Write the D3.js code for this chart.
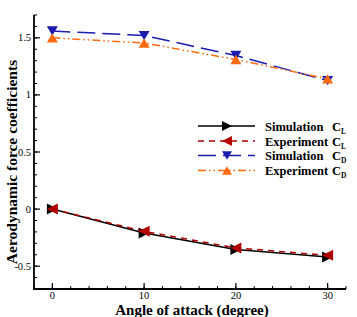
<!DOCTYPE html>
<html><head><meta charset="utf-8">
<script src="https://cdn.jsdelivr.net/npm/d3@7"></script>
<style>body{margin:0;background:#fff}svg{display:block}</style>
</head><body><svg id="c" width="357" height="317"></svg>
<script>
const angles = [0, 10, 20, 30];
const simCL = [0, -0.21, -0.355, -0.42];
const expCL = [0, -0.195, -0.34, -0.405];
const simCD = [1.56, 1.52, 1.345, 1.125];
const expCD = [1.5, 1.455, 1.31, 1.14];
const xTicks = [0, 10, 20, 30];
const yTicks = [-0.5, 0, 0.5, 1, 1.5];
const yTickLabels = ["-0.5", "0", "0.5", "1", "1.5"];

const series = [
  {name: "Simulation", sub: "L", vals: simCL, color: "#000000", dash: null, marker: "right"},
  {name: "Experiment", sub: "L", vals: expCL, color: "#b00000", dash: "6,5", marker: "left"},
  {name: "Simulation", sub: "D", vals: simCD, color: "#1c1cb0", dash: "18,7", marker: "down"},
  {name: "Experiment", sub: "D", vals: expCD, color: "#ff6a10", dash: "8,3,1.5,3,1.5,3", marker: "up"}
];

const FONT = '"Liberation Serif", "Times New Roman", serif';
const svg = d3.select("#c");
const L = 34, R = 346, T = 15, B = 289;
const x = d3.scaleLinear().domain([-2, 32]).range([L, R]);
const y = d3.scaleLinear().domain([-0.7, 1.7]).range([B, T]);

const g = svg.append("g");
const xMinor = d3.range(-2, 32.01, 2);
const yMinor = d3.range(-0.7, 1.701, 0.1);
g.selectAll(".xm").data(xMinor).join("line")
  .attr("x1", d => x(d)).attr("x2", d => x(d)).attr("y1", B).attr("y2", B - 3)
  .attr("stroke", "#000").attr("stroke-width", 1);
g.selectAll(".ym").data(yMinor).join("line")
  .attr("y1", d => y(d)).attr("y2", d => y(d)).attr("x1", L).attr("x2", L + 3)
  .attr("stroke", "#000").attr("stroke-width", 1);
g.selectAll(".xM").data(xTicks).join("line")
  .attr("x1", d => x(d)).attr("x2", d => x(d)).attr("y1", B).attr("y2", B - 6)
  .attr("stroke", "#000").attr("stroke-width", 1.2);
g.selectAll(".yM").data(yTicks).join("line")
  .attr("y1", d => y(d)).attr("y2", d => y(d)).attr("x1", L).attr("x2", L + 6)
  .attr("stroke", "#000").attr("stroke-width", 1.2);
g.append("line").attr("x1", L).attr("x2", L).attr("y1", T).attr("y2", B + 0.8).attr("stroke", "#000").attr("stroke-width", 1.8);
g.append("line").attr("x1", L - 0.8).attr("x2", R).attr("y1", B).attr("y2", B).attr("stroke", "#000").attr("stroke-width", 1.8);

g.selectAll(".xl").data(xTicks).join("text")
  .attr("x", d => x(d)).attr("y", B + 10).attr("text-anchor", "middle")
  .attr("font-family", FONT).attr("font-size", 10.5).text(d => d);
g.selectAll(".yl").data(yTicks).join("text")
  .attr("x", L - 3).attr("y", d => y(d) + 3.5).attr("text-anchor", "end")
  .attr("font-family", FONT).attr("font-size", 10.5).text((d, i) => yTickLabels[i]);

svg.append("text").attr("x", 192).attr("y", 315).attr("text-anchor", "middle")
  .attr("font-family", FONT).attr("font-weight", "bold").attr("font-size", 15)
  .text("Angle of attack (degree)");
svg.append("text").attr("transform", "translate(17,162) rotate(-90)").attr("text-anchor", "middle")
  .attr("font-family", FONT).attr("font-weight", "bold").attr("font-size", 15.5)
  .text("Aerodynamic force coefficients");

function tri(type, s) {
  const h = s / 2;
  if (type === "right") return `M${-h},${-h}L${h},0L${-h},${h}Z`;
  if (type === "left") return `M${h},${-h}L${-h},0L${h},${h}Z`;
  if (type === "down") return `M${-h},${-h * 0.85}L${h},${-h * 0.85}L0,${h * 0.85}Z`;
  return `M${-h},${h * 0.85}L${h},${h * 0.85}L0,${-h * 0.85}Z`;
}

const line = d3.line().x((d, i) => x(angles[i])).y(d => y(d));
series.forEach(s => {
  svg.append("path").attr("d", line(s.vals)).attr("fill", "none")
    .attr("stroke", s.color).attr("stroke-width", 1.5)
    .attr("stroke-dasharray", s.dash);
  svg.selectAll(null).data(s.vals).join("path")
    .attr("transform", (d, i) => `translate(${x(angles[i])},${y(d)})`)
    .attr("d", tri(s.marker, 11)).attr("fill", s.color);
});

const lg = svg.append("g");
const rows = [126, 141, 155.5, 170.5];
series.forEach((s, i) => {
  const yy = rows[i];
  lg.append("line").attr("x1", 198).attr("x2", 255).attr("y1", yy).attr("y2", yy)
    .attr("stroke", s.color).attr("stroke-width", 1.5).attr("stroke-dasharray", s.dash);
  lg.append("path").attr("transform", `translate(227,${yy})`).attr("d", tri(s.marker, 10)).attr("fill", s.color);
  lg.append("text").attr("x", 265).attr("y", yy + 4.5).attr("font-family", FONT)
    .attr("font-weight", "bold").attr("font-size", 12.5).text(s.name);
  const t = lg.append("text").attr("x", 332).attr("y", yy + 4.5).attr("font-family", FONT)
    .attr("font-weight", "bold").attr("font-size", 12.5);
  t.append("tspan").text("C");
  t.append("tspan").attr("font-size", 7.5).attr("dy", 3).text(s.sub);
});
</script></body></html>
